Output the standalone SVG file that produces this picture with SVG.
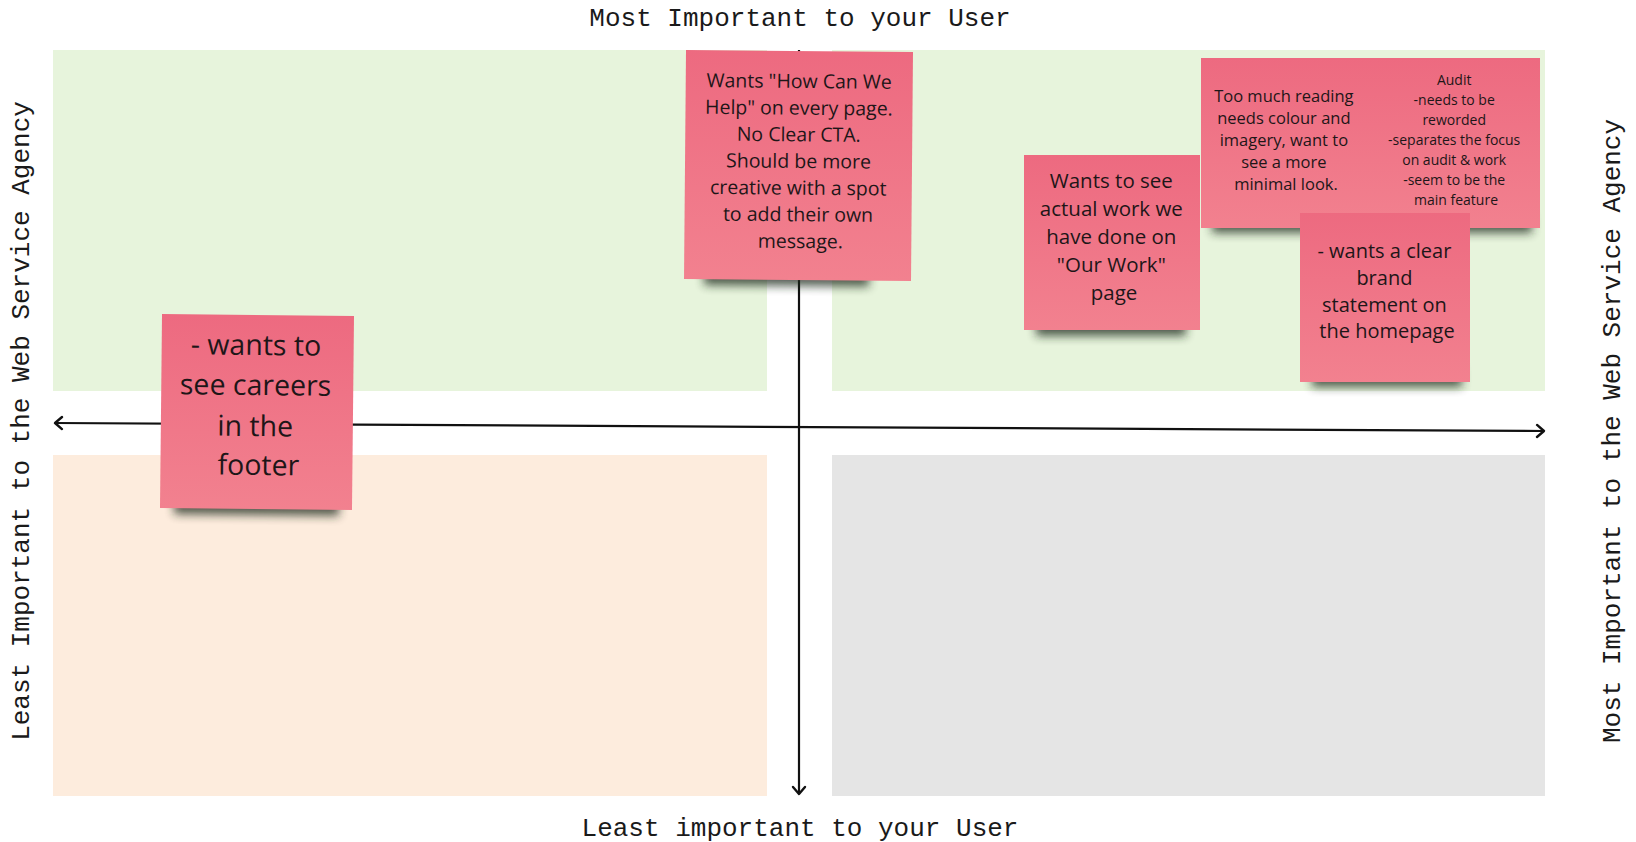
<svg xmlns="http://www.w3.org/2000/svg" width="1636" height="842" viewBox="0 0 1636 842">
  <style>
    .axis-label { font-family: "Liberation Mono", "DejaVu Sans Mono", monospace; font-size: 26px; fill: #1a1a1a; }
    .quad { stroke: none; }
    .axis { stroke: #111; stroke-width: 2.2; fill: none; }
    .note { fill: url(#noteFill); }
    .shadow { fill: #1f2b1f; opacity: 0.75; filter: url(#soft); }
    .note-text { font-family: "Open Sans", "Noto Sans", sans-serif; fill: #1e1618; text-anchor: middle; }
  </style>
  <defs>
    <linearGradient id="noteFill" x1="0" y1="0" x2="0" y2="1">
      <stop offset="0" stop-color="#ed6a80"/>
      <stop offset="1" stop-color="#f2818f"/>
    </linearGradient>
    <filter id="soft" x="-20%" y="-60%" width="140%" height="220%">
      <feGaussianBlur stdDeviation="5"/>
    </filter>
    <marker id="chevron" markerUnits="userSpaceOnUse" markerWidth="14" markerHeight="16" refX="9" refY="7" orient="auto-start-reverse" viewBox="0 0 14 14">
      <path d="M2,1 L9,7 L2,13" fill="none" stroke="#111" stroke-width="2.4" stroke-linecap="round" stroke-linejoin="round"/>
    </marker>
  </defs>

  <rect width="1636" height="842" fill="#ffffff"/>

  <!-- quadrant backgrounds -->
  <g id="quadrants">
    <rect class="quad" x="53" y="50" width="714" height="341" fill="#e7f4dc"/>
    <rect class="quad" x="832" y="50" width="713" height="341" fill="#e7f4dc"/>
    <rect class="quad" x="53" y="455" width="714" height="341" fill="#fdecdd"/>
    <rect class="quad" x="832" y="455" width="713" height="341" fill="#e5e5e5"/>
  </g>

  <!-- axis titles -->
  <g id="labels">
    <text class="axis-label" x="800" y="26" text-anchor="middle">Most Important to your User</text>
    <text class="axis-label" x="800" y="836" text-anchor="middle">Least important to your User</text>
    <text class="axis-label" transform="translate(29,421) rotate(-90)" text-anchor="middle">Least Important to the Web Service Agency</text>
    <text class="axis-label" transform="translate(1620,431) rotate(-90)" text-anchor="middle">Most Important to the Web Service Agency</text>
  </g>

  <!-- axes -->
  <g id="connectors">
    <line class="axis" x1="799" y1="50" x2="799" y2="794" marker-end="url(#chevron)"/>
    <line class="axis" x1="55" y1="423" x2="1544" y2="431" marker-start="url(#chevron)" marker-end="url(#chevron)"/>
  </g>

  <!-- sticky notes -->
  <g id="note-help" transform="rotate(0.5 798 166)">
    <rect class="shadow" x="705" y="266" width="165" height="20"/>
    <rect class="note" x="685" y="51" width="227" height="229"/>
    <text class="note-text" font-size="19.5">
      <tspan x="801" y="88">Wants "How Can We</tspan>
      <tspan x="801" y="114.7">Help" on every page.</tspan>
      <tspan x="801" y="141.3">No Clear CTA.</tspan>
      <tspan x="801" y="168">Should be more</tspan>
      <tspan x="801" y="194.7">creative with a spot</tspan>
      <tspan x="801" y="221.3">to add their own</tspan>
      <tspan x="801" y="248">message.</tspan>
    </text>
  </g>

  <g id="note-work">
    <rect class="shadow" x="1036" y="316" width="150" height="20"/>
    <rect class="note" x="1024" y="155" width="176" height="175"/>
    <text class="note-text" font-size="20.5">
      <tspan x="1114" y="188">Wants to see</tspan>
      <tspan x="1114" y="216">actual work we</tspan>
      <tspan x="1114" y="244">have done on</tspan>
      <tspan x="1114" y="272">"Our Work"</tspan>
      <tspan x="1114" y="300">page</tspan>
    </text>
  </g>

  <g id="note-reading">
    <rect class="shadow" x="1212" y="214" width="150" height="19"/>
    <rect class="note" x="1201" y="58" width="171" height="170"/>
    <text class="note-text" font-size="16.5">
      <tspan x="1286" y="102">Too much reading</tspan>
      <tspan x="1286" y="124">needs colour and</tspan>
      <tspan x="1286" y="146">imagery, want to</tspan>
      <tspan x="1286" y="168">see a more</tspan>
      <tspan x="1286" y="190">minimal look.</tspan>
    </text>
  </g>

  <g id="note-audit">
    <rect class="shadow" x="1382" y="214" width="150" height="19"/>
    <rect class="note" x="1370" y="58" width="170" height="170"/>
    <text class="note-text" font-size="14">
      <tspan x="1456" y="85">Audit</tspan>
      <tspan x="1456" y="105">-needs to be</tspan>
      <tspan x="1456" y="125">reworded</tspan>
      <tspan x="1456" y="145">-separates the focus</tspan>
      <tspan x="1456" y="165">on audit &amp; work</tspan>
      <tspan x="1456" y="185">-seem to be the</tspan>
      <tspan x="1456" y="205">main feature</tspan>
    </text>
  </g>

  <g id="note-brand">
    <rect class="shadow" x="1312" y="367" width="150" height="20"/>
    <rect class="note" x="1300" y="213" width="170" height="169"/>
    <text class="note-text" font-size="20">
      <tspan x="1387" y="258">- wants a clear</tspan>
      <tspan x="1387" y="285">brand</tspan>
      <tspan x="1387" y="312">statement on</tspan>
      <tspan x="1387" y="338">the homepage</tspan>
    </text>
  </g>

  <g id="note-careers" transform="rotate(0.6 257 412)">
    <rect class="shadow" x="175" y="495" width="165" height="20"/>
    <rect class="note" x="161" y="315" width="192" height="194"/>
    <text class="note-text" font-size="28.5">
      <tspan x="259" y="355">- wants to</tspan>
      <tspan x="259" y="395">see careers</tspan>
      <tspan x="259" y="436">in the</tspan>
      <tspan x="259" y="475">footer</tspan>
    </text>
  </g>
</svg>
